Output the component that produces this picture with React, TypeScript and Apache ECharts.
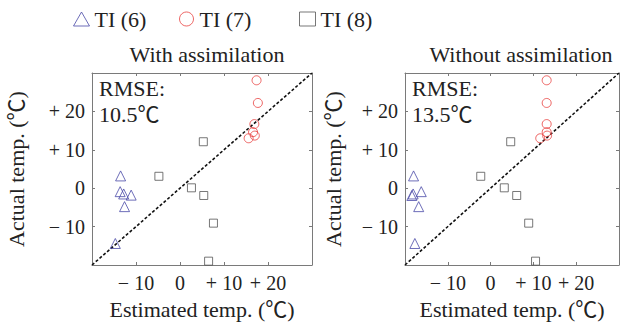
import React, { useEffect, useRef } from "react";
import * as echarts from "echarts";

const seriesNames = ["TI (6)", "TI (7)", "TI (8)"];
const panelTitles = ["With assimilation", "Without assimilation"];
const rmseHead = "RMSE:";
const rmseValues = ["10.5℃", "13.5℃"];
const axisTicks = [-20, -10, 0, 10, 20, 30];

// With assimilation: [estimated, actual]
const withTI6 = [[-13.5, 3.2], [-13.6, -0.9], [-12.8, -1.5], [-11.1, -1.8], [-12.6, -4.8], [-14.7, -14.4]];
const withTI7 = [[17.4, 28.1], [17.7, 22.2], [16.9, 16.7], [16.6, 14.6], [17.0, 13.7], [15.6, 13.0]];
const withTI8 = [[5.3, 12.1], [-4.8, 3.1], [2.6, 0.1], [5.4, -1.9], [7.6, -9.1], [6.5, -19.0]];

// Without assimilation
const withoutTI6 = [[-18.0, 3.2], [-18.1, -1.5], [-18.4, -1.9], [-16.2, -0.9], [-16.8, -4.8], [-17.7, -14.4]];
const withoutTI7 = [[13.1, 28.1], [13.1, 22.2], [13.1, 16.7], [13.1, 14.6], [13.2, 13.7], [11.6, 13.0]];
const withoutTI8 = [[4.7, 12.1], [-2.3, 3.1], [3.2, 0.1], [6.1, -1.9], [8.9, -9.1], [10.5, -19.0]];

const diagonal = [[-20, -20], [30, 30]];

const FONT = "'Liberation Serif', 'Noto Sans CJK SC', serif";
const TXT = "#222";
const COLORS = ["#4a4aa8", "#e8403f", "#555555"];
const SYMBOLS = ["triangle", "circle", "rect"];
const SIZES = [10, 9, 8];

function fmt(v: number): string {
  if (v === axisTicks[0] || v === axisTicks[axisTicks.length - 1]) return "";
  if (v > 0) return "+ " + v;
  if (v < 0) return "− " + -v;
  return "0";
}

export default function App() {
  const ref = useRef<HTMLDivElement>(null);
  useEffect(() => {
    if (!ref.current) return;
    const chart = echarts.init(ref.current, undefined, { renderer: "svg" });
    const grids = [
      { left: 92, top: 73, width: 220, height: 192 },
      { left: 405, top: 73, width: 220, height: 192 },
    ];
    const yNameGaps = [65, 61];
    const axisLine = { show: true, onZero: false, lineStyle: { color: "#7a7a7a", width: 1 } };
    const axisTick = { show: true, inside: true, length: 3, lineStyle: { color: "#7a7a7a" } };
    const labelStyle = {
      fontFamily: FONT,
      fontSize: 20,
      fontWeight: "normal",
      color: TXT,
    };
    const xAxes: any[] = [];
    const yAxes: any[] = [];
    grids.forEach((_, i) => {
      const base = {
        type: "value",
        gridIndex: i,
        min: -20,
        max: 30,
        interval: 10,
        splitLine: { show: false },
        axisLine,
        axisTick,
      };
      xAxes.push({
        ...base,
        position: "bottom",
        name: "Estimated temp. (℃)",
        nameLocation: "middle",
        nameGap: 33,
        nameTextStyle: { fontFamily: FONT, fontSize: 22, color: TXT },
        axisLabel: { ...labelStyle, formatter: fmt, margin: 8 },
      });
      xAxes.push({ ...base, position: "top", axisLabel: { show: false } });
      yAxes.push({
        ...base,
        position: "left",
        name: "Actual temp. (℃)",
        nameLocation: "middle",
        nameGap: yNameGaps[i],
        nameTextStyle: { fontFamily: FONT, fontSize: 22, color: TXT },
        axisLabel: { ...labelStyle, formatter: fmt, margin: 7 },
      });
      yAxes.push({ ...base, position: "right", axisLabel: { show: false } });
    });

    const panels = [
      [withTI6, withTI7, withTI8],
      [withoutTI6, withoutTI7, withoutTI8],
    ];
    const series: any[] = [];
    panels.forEach((sets, p) => {
      sets.forEach((data, k) => {
        series.push({
          type: "scatter",
          name: seriesNames[k],
          xAxisIndex: p * 2,
          yAxisIndex: p * 2,
          data,
          symbol: SYMBOLS[k],
          symbolSize: SIZES[k],
          itemStyle: { color: "rgba(0,0,0,0)", borderColor: COLORS[k], borderWidth: 1 },
          z: 3,
        });
      });
      series.push({
        type: "line",
        xAxisIndex: p * 2,
        yAxisIndex: p * 2,
        data: diagonal,
        symbol: "none",
        lineStyle: { color: "#111", width: 1.6, type: [3, 2] },
        z: 2,
      });
    });

    const legendLefts = [73, 179, 299];
    const titleStyle = { fontFamily: FONT, fontSize: 22, fontWeight: "normal", color: TXT };
    const rmseLefts = [99, 412];

    const titles: any[] = [
      { text: panelTitles[0], left: 202, top: 38, textAlign: "center", textStyle: titleStyle },
      { text: panelTitles[1], left: 516, top: 38, textAlign: "center", textStyle: titleStyle },
    ];
    rmseLefts.forEach((l, i) => {
      titles.push({ text: rmseHead, left: l, top: 77, padding: 0, textStyle: titleStyle });
      titles.push({ text: rmseValues[i], left: l, top: 103, padding: 0, textStyle: titleStyle });
    });

    chart.setOption({
      animation: false,
      backgroundColor: "#fff",
      textStyle: { fontFamily: FONT },
      grid: grids,
      xAxis: xAxes,
      yAxis: yAxes,
      title: titles,
      legend: seriesNames.map((n, k) => ({
        left: legendLefts[k],
        top: 8,
        padding: 0,
        itemWidth: 16,
        itemHeight: 14,
        textStyle: { fontFamily: FONT, fontSize: 22, fontWeight: "normal", color: TXT },
        data: [
          {
            name: n,
            icon: SYMBOLS[k],
            itemStyle: { color: "rgba(0,0,0,0)", borderColor: COLORS[k], borderWidth: 1 },
          },
        ],
      })),
      series,
    });
    return () => chart.dispose();
  }, []);
  return <div ref={ref} style={{ position: "fixed", left: 0, top: 0, width: 622, height: 329 }} />;
}
